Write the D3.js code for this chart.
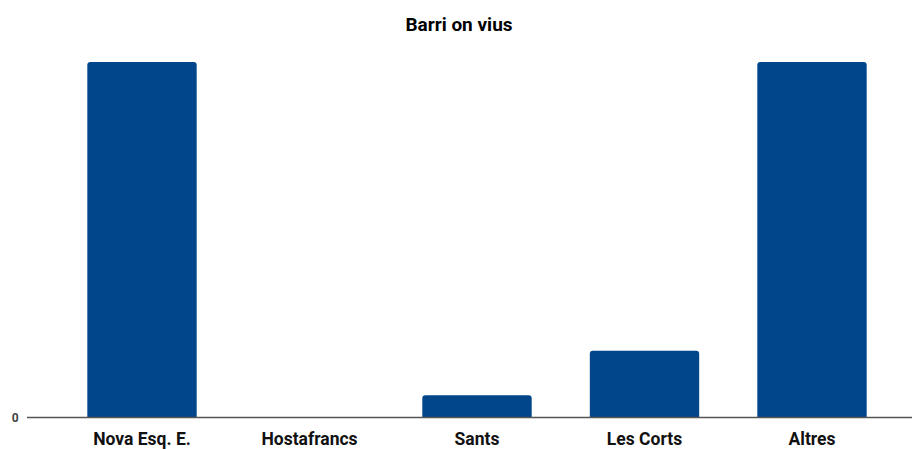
<!DOCTYPE html>
<html>
<head>
<meta charset="utf-8">
<script src="https://cdn.jsdelivr.net/npm/d3@7"></script>
<style>
  body { margin: 0; background: #fff; }
  svg { display: block; font-family: Roboto, "Noto Sans", sans-serif; }
</style>
</head>
<body>
<svg id="chart" width="915" height="449"></svg>
<script>
const title = 'Barri on vius';
const categories = ['Nova Esq. E.', 'Hostafrancs', 'Sants', 'Les Corts', 'Altres'];
const values = [16, 0, 1, 3, 16];
const yTicks = [0];

const baseY = 417.5;

const svg = d3.select('#chart');

const x = d3.scaleBand()
  .domain(categories)
  .range([58.25, 895.75])
  .paddingInner(0.347)
  .paddingOuter(0.1735);

const y = d3.scaleLinear()
  .domain([0, 16])
  .range([baseY, 62]);

// title
svg.append('text')
  .attr('x', 459)
  .attr('y', 30.5)
  .attr('text-anchor', 'middle')
  .attr('font-size', 19)
  .attr('font-weight', 'bold')
  .attr('fill', '#000')
  .text(title);

// bars with slightly rounded tops
const r = 3;
const barPath = (d, i) => {
  const x0 = x(categories[i]), w = x.bandwidth();
  const y0 = y(d), yb = y(0);
  if (yb - y0 <= 0) return '';
  const rr = Math.min(r, (yb - y0) / 2);
  return `M${x0},${yb} V${y0 + rr} Q${x0},${y0} ${x0 + rr},${y0} H${x0 + w - rr} Q${x0 + w},${y0} ${x0 + w},${y0 + rr} V${yb} Z`;
};

svg.append('g')
  .selectAll('path')
  .data(values)
  .join('path')
  .attr('d', barPath)
  .attr('fill', '#01458a');

// baseline
svg.append('line')
  .attr('x1', 27).attr('x2', 912)
  .attr('y1', y(0)).attr('y2', y(0))
  .attr('stroke', '#555')
  .attr('stroke-width', 1.3);

// y tick labels
svg.append('g')
  .selectAll('text')
  .data(yTicks)
  .join('text')
  .attr('x', 15.3)
  .attr('y', d => y(d) + 4.2)
  .attr('text-anchor', 'middle')
  .attr('font-size', 12)
  .attr('font-weight', 'bold')
  .attr('fill', '#444')
  .text(d => d);

// x axis labels
const xAxis = d3.axisBottom(x).tickSize(0).tickPadding(0);
const xg = svg.append('g')
  .attr('transform', `translate(0,${baseY})`)
  .call(xAxis);
xg.select('.domain').remove();
xg.selectAll('text')
  .attr('y', 27.5)
  .attr('dy', 0)
  .attr('font-size', 17.5)
  .attr('font-weight', 'bold')
  .attr('font-family', 'Roboto, "Noto Sans", sans-serif')
  .attr('fill', '#111');
</script>
</body>
</html>
